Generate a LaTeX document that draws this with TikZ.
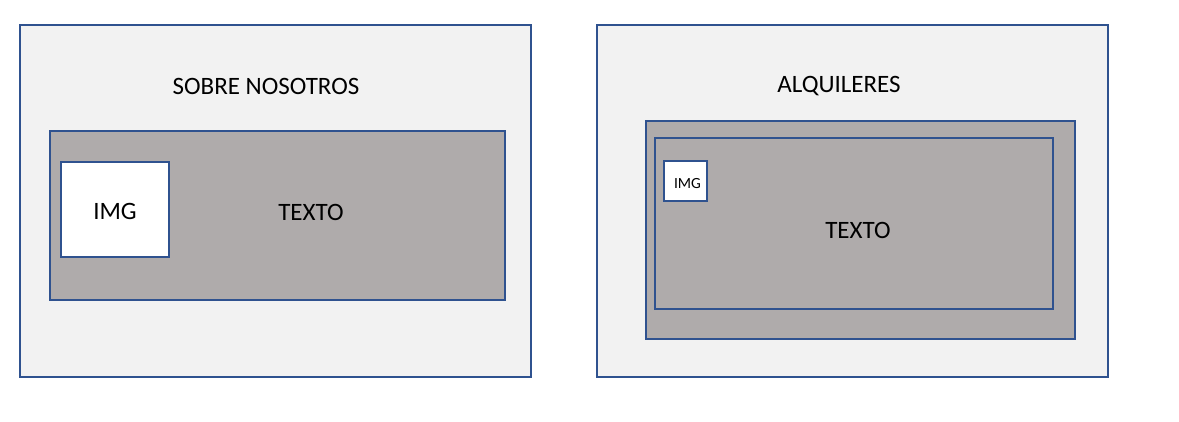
\documentclass[tikz,border=0pt]{standalone}
\usepackage{fontspec}
\setmainfont{Carlito}
\definecolor{borde}{HTML}{2F528F}
\definecolor{fondo}{HTML}{F2F2F2}
\definecolor{gris}{HTML}{AFABAB}
\tikzset{
  panel/.style={draw=borde,line width=2pt,fill=fondo,minimum width=511pt,minimum height=352pt},
  bloque/.style={draw=borde,line width=2pt,fill=gris},
  imagen/.style={draw=borde,line width=2pt,fill=white},
  texto/.style={font=\fontsize{25pt}{30pt}\selectfont,inner sep=0pt}
}
\begin{document}
\begin{tikzpicture}[x=1pt,y=-1pt]
		\useasboundingbox (0,0) rectangle (1179,421);
		% sobre nosotros
		\node[panel] (sobre) at (275.5,201) {};
		\node[texto] (sobretit) at (266,86) {SOBRE NOSOTROS};
		\node[bloque,minimum width=455pt,minimum height=169pt] (sobrecaja) at (277.5,215.5) {};
		\node[imagen,minimum width=108pt,minimum height=95pt] (sobreimg) at (115,209.5) {};
		\node[texto] at ([yshift=-1.5pt]sobreimg) {IMG};
		\node[texto] (sobretxt) at (311,212) {TEXTO};
		% alquileres
		\node[panel] (alq) at (852.5,201) {};
		\node[texto] (alqtit) at (839,86) {ALQUILERES};
		\node[bloque,minimum width=429pt,minimum height=218pt] (alqcaja) at (860.5,230) {};
		\node[bloque,minimum width=398pt,minimum height=171pt] (alqint) at (854,223.5) {};
		\node[imagen,minimum width=43pt,minimum height=40pt] (alqimg) at (685.5,181) {};
		\node[texto,font=\fontsize{15.5pt}{18pt}\selectfont] at ([xshift=2pt,yshift=-2.5pt]alqimg) {IMG};
		\node[texto] (alqtxt) at (858,230) {TEXTO};
\end{tikzpicture}
\end{document}
